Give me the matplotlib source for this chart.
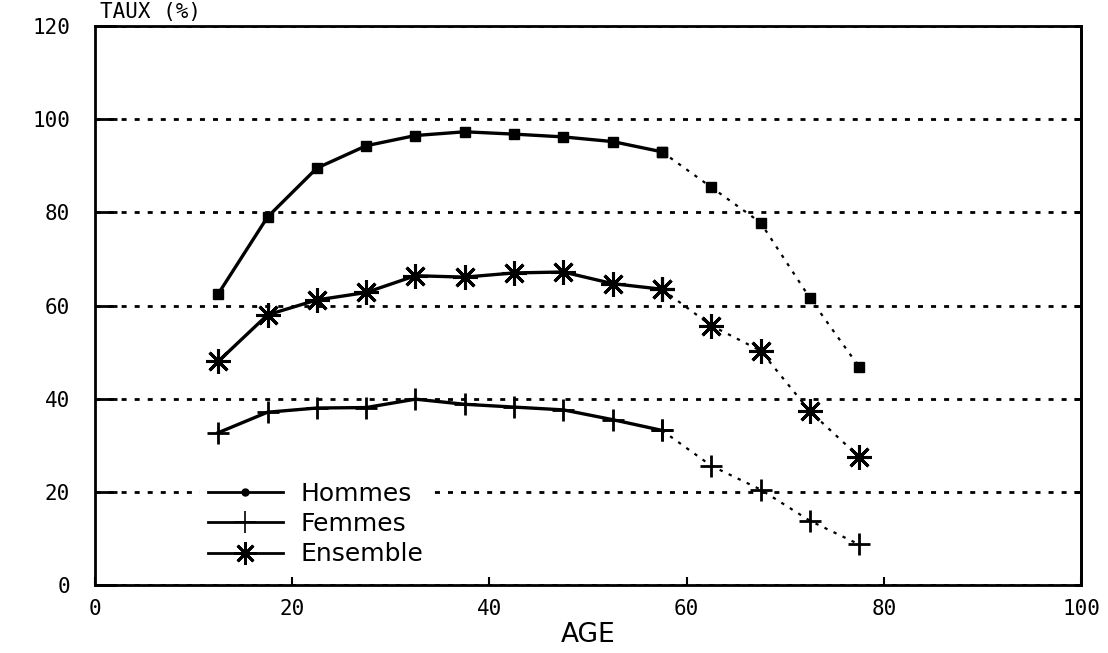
import matplotlib
matplotlib.use("Agg")
import matplotlib.pyplot as plt
from matplotlib.lines import Line2D

# tranches d'age (centre) et taux d'activite
ages = [12.5, 17.5, 22.5, 27.5, 32.5, 37.5, 42.5, 47.5, 52.5, 57.5, 62.5, 67.5, 72.5, 77.5]
hommes = [62.5, 79.0, 89.5, 94.3, 96.5, 97.3, 96.8, 96.2, 95.2, 93.0, 85.4, 77.8, 61.6, 46.8]
femmes = [32.7, 37.1, 38.0, 38.1, 39.9, 38.8, 38.2, 37.6, 35.5, 33.2, 25.6, 20.5, 13.8, 8.7]
ensemble = [48.0, 58.0, 61.2, 62.8, 66.4, 66.1, 67.0, 67.2, 64.7, 63.5, 55.7, 50.3, 37.3, 27.5]

x_ticks = [0, 20, 40, 60, 80, 100]
y_ticks = [0, 20, 40, 60, 80, 100, 120]
labels = ["Hommes", "Femmes", "Ensemble"]

cut = 9  # trait plein jusqu'a 57.5 ans, pointille apres

fig = plt.figure(figsize=(11.08, 6.53), dpi=100)
ax = fig.add_axes([0.0857, 0.1041, 0.890, 0.856])

series = [
    (hommes, dict(marker="s", markersize=7)),
    (femmes, dict(marker="+", markersize=16, markeredgewidth=2)),
    (ensemble, dict(marker=(8, 2, 0), markersize=18, markeredgewidth=2.2)),
]
for vals, mk in series:
    ax.plot(ages[:cut + 1], vals[:cut + 1], color="black", lw=2.4, **mk)
    ax.plot(ages[cut:], vals[cut:], color="black", lw=1.6,
            linestyle=(0, (1.5, 3)), **mk)

ax.set_xlim(0, 100)
ax.set_ylim(0, 120)
ax.set_xticks(x_ticks)
ax.set_yticks(y_ticks)

mono = "DejaVu Sans Mono"
ax.set_xticklabels([str(v) for v in x_ticks], family=mono, fontsize=15)
ax.set_yticklabels([str(v) for v in y_ticks], family=mono, fontsize=15)

ax.tick_params(axis="x", direction="in", length=6, width=1.5, pad=10)
ax.tick_params(axis="y", direction="in", length=16, width=2, pad=18)

right = ax.secondary_yaxis("right")
right.set_yticks(y_ticks)
right.tick_params(direction="in", length=5, width=2, labelright=False)
right.spines["right"].set_linewidth(2)

ax.yaxis.grid(True, color="black", lw=2, linestyle=(0, (1.8, 2.9)))
for sp in ax.spines.values():
    sp.set_linewidth(2)

ax.set_xlabel("AGE", fontsize=19, labelpad=2)
fig.text(100 / 1108, 1 - 18 / 653, "TAUX (%)", family=mono, fontsize=15,
         va="baseline", ha="left")

handles = [
    Line2D([], [], color="black", lw=2, marker="o", markersize=5),
    Line2D([], [], color="black", lw=2, marker="+", markersize=16, markeredgewidth=1.2),
    Line2D([], [], color="black", lw=2, marker=(8, 2, 0), markersize=16, markeredgewidth=2),
]
leg = ax.legend(handles, labels, loc="upper left", bbox_to_anchor=(0.107, 0.198),
                borderaxespad=0, borderpad=0.3, handlelength=3.0, handletextpad=0.7,
                labelspacing=0.25, fontsize=18, frameon=True, fancybox=False)
leg.get_frame().set_edgecolor("none")
leg.get_frame().set_facecolor("white")
leg.get_frame().set_alpha(1)

fig.savefig("out.png", dpi=100, facecolor="white")
